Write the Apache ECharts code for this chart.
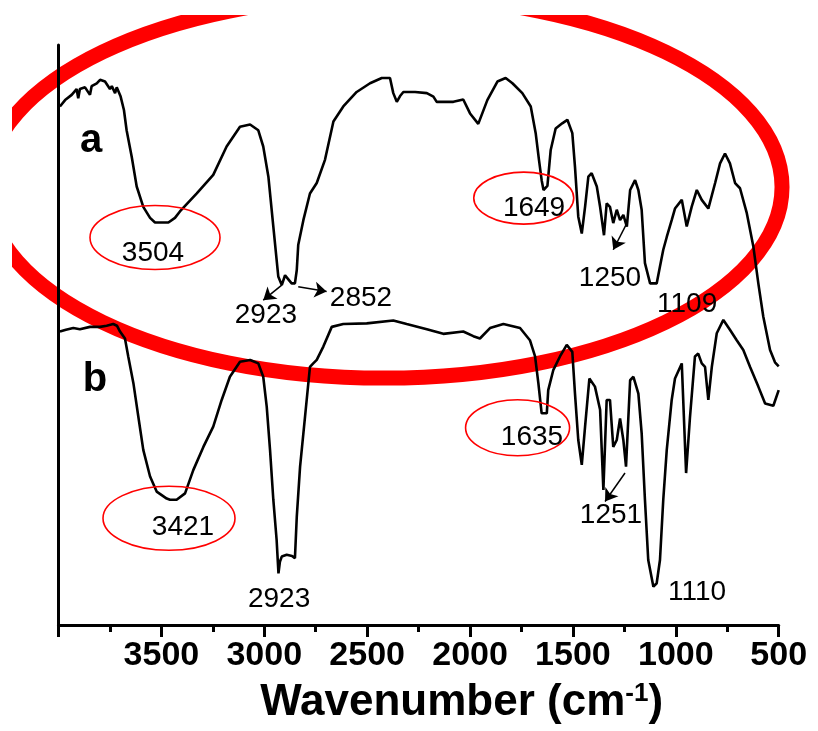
<!DOCTYPE html>
<html><head><meta charset="utf-8">
<script src="https://cdn.jsdelivr.net/npm/echarts/dist/echarts.min.js"></script>
<style>html,body{margin:0;padding:0;background:#fff}#c{width:818px;height:731px}</style>
</head><body><div id="c"></div>
<script>
// ---- Data (wavenumber in cm^-1, transmittance in arbitrary units) ----
const wavenumberA=[3993,3968,3936,3912,3904,3896,3871,3847,3839,3814,3798,3774,3750,3741,3725,3717,3698,3682,3669,3644,3620,3588,3555,3531,3466,3434,3410,3328,3248,3183,3118,3069,3029,3005,2980,2956,2932,2915,2899,2883,2867,2851,2842,2835,2810,2778,2745,2705,2664,2616,2551,2486,2429,2389,2373,2356,2340,2324,2267,2210,2178,2162,2081,2033,2000,1960,1916,1867,1827,1794,1746,1705,1681,1665,1652,1643,1624,1608,1584,1552,1527,1503,1490,1474,1457,1441,1425,1409,1384,1368,1349,1336,1320,1304,1287,1271,1255,1238,1222,1198,1182,1166,1150,1125,1093,1077,1061,1044,1020,1004,971,947,923,898,874,842,809,785,761,737,712,688,655,623,599,575,542,518,500];
const transA=[89.4,90.5,91.4,92.4,90.8,92.4,92.7,91.4,92.9,93.4,94.0,93.7,92.4,92.9,91.7,92.7,91.1,88.8,85.3,80.7,75.6,72.1,70.2,69.4,69.4,70.2,71.3,74.4,77.6,82.5,85.9,86.3,85.3,82.5,77.3,68.7,60.1,58.6,60.3,59.6,58.9,58.9,61.2,65.5,69.8,74.4,76.2,80.2,86.8,89.4,91.9,93.4,94.3,94.3,91.7,90.2,91.2,91.9,91.9,91.7,91.1,90.2,90.2,90.6,88.2,86.4,90.5,93.7,94.3,93.4,91.7,89.4,84.8,80.2,76.7,75.0,75.7,81.9,85.6,86.5,87.1,84.8,79.0,70.4,67.5,72.1,77.3,77.9,75.6,72.1,67.2,72.7,72.1,69.3,71.6,69.8,70.7,68.7,75.0,76.7,75.0,71.6,62.4,58.9,58.9,61.8,64.7,66.9,69.8,71.8,73.3,68.7,72.1,75.0,73.3,71.8,76.2,79.6,81.3,79.6,76.2,75.3,71.0,65.2,58.9,53.2,47.4,45.3,44.6];
const wavenumberB=[3993,3964,3928,3896,3847,3798,3766,3734,3716,3701,3677,3661,3636,3612,3588,3555,3523,3474,3458,3426,3385,3345,3296,3248,3207,3167,3118,3069,3029,3005,2988,2972,2956,2940,2931,2924,2915,2891,2865,2851,2842,2826,2802,2778,2762,2745,2713,2672,2616,2502,2373,2308,2210,2130,2033,1984,1952,1903,1838,1757,1709,1684,1668,1652,1627,1620,1595,1563,1530,1503,1490,1474,1457,1441,1420,1393,1368,1352,1336,1320,1304,1287,1271,1255,1242,1222,1206,1182,1166,1150,1134,1109,1093,1077,1061,1044,1020,1004,971,950,931,907,891,874,858,842,825,801,769,737,704,672,639,599,566,526,500];
const transB=[50.6,50.9,51.2,51.0,51.4,51.4,51.6,51.9,51.6,50.6,49.4,46.3,41.7,35.9,30.2,25.6,23.0,21.8,21.6,21.6,22.7,26.7,30.7,34.2,38.8,42.8,45.4,45.7,45.1,42.8,37.6,30.2,21.6,14.7,8.9,10.9,11.8,12.1,11.9,11.5,18.7,27.3,35.9,44.5,45.1,45.7,48.0,51.4,51.9,52.0,52.5,51.9,51.0,50.2,50.6,49.8,49.4,51.2,51.9,51.2,49.1,46.3,41.7,36.5,36.5,40.5,44.0,46.3,48.3,47.1,39.9,31.9,27.6,34.2,42.5,41.1,37.1,23.3,38.8,38.8,30.7,31.9,35.6,31.9,27.3,42.2,42.8,39.9,33.1,21.6,11.2,6.6,7.2,11.2,21.6,30.2,38.8,42.5,45.1,26.2,35.9,46.3,46.8,45.1,44.5,38.8,44.5,50.3,52.6,50.9,49.1,47.4,44.5,41.1,38.2,37.8,40.5];
const xTickValues=[500,1000,1500,2000,2500,3000,3500];
// peak annotation texts and their anchor (wavenumber, transmittance)
const peakTexts=['3504','2923','2852','1649','1250','1109','3421','2923','1635','1251','1110'];
const peakTextWn=[3541,2992,2530,1689,1320,945,3395,2928,1699,1315,897];
const peakTextT=[64.1,53.4,56.4,71.9,59.7,55.3,16.9,4.5,32.4,18.9,5.7];
const curveNames=['a','b'];
const curveNameWn=[3842,3823];
const curveNameT=[83.4,42.2];
// highlight ellipse anchors
const ringWn=[3531,1739,3463,1769];
const ringT=[66.8,73.6,18.4,34.0];
const bigRingWn=[2418], bigRingT=[75.5];
// arrows: from / to points
const arrowFrom=[[2915,58.6],[2835,58.3],[1242,69.0],[1247,26.2]];
const arrowTo=[[3005,56.0],[2697,57.5],[1304,64.7],[1344,21.3]];

// ---- styles / sizes ----
const FONT='"Liberation Sans", Arial, Helvetica, sans-serif';
const ringRadii=[[65,32],[50,26],[66,32],[52,28]];

const chart=echarts.init(document.getElementById('c'),null,{renderer:'canvas'});
const seriesA=wavenumberA.map((w,i)=>[w,transA[i]]);
const seriesB=wavenumberB.map((w,i)=>[w,transB[i]]);

chart.setOption({
  animation:false,
  backgroundColor:'#fff',
  grid:{left:58.5,right:39.3,top:45,bottom:106,containLabel:false},
  xAxis:{type:'value',inverse:true,min:500,max:4000,interval:500,z:3,
    axisLine:{show:true,onZero:false,lineStyle:{color:'#000',width:3}},
    axisTick:{show:true,length:12,lineStyle:{color:'#000',width:3}},
    minorTick:{show:true,splitNumber:2,length:7,lineStyle:{color:'#000',width:3}},
    splitLine:{show:false},minorSplitLine:{show:false},
    axisLabel:{fontSize:34,fontWeight:'bold',color:'#000',fontFamily:FONT,margin:14,
      formatter:v=>xTickValues.indexOf(v)>=0?String(v):''},
    name:'Wavenumber (cm{sup|-1})',nameLocation:'middle',nameGap:56,
    nameTextStyle:{fontSize:44,fontWeight:'bold',color:'#000',fontFamily:FONT,padding:[0,0,0,86],
      rich:{sup:{fontSize:26,fontWeight:'bold',color:'#000',fontFamily:FONT,verticalAlign:'top'}}}
  },
  yAxis:{type:'value',min:0,max:100,z:3,
    axisLine:{show:true,onZero:false,lineStyle:{color:'#000',width:3}},
    axisTick:{show:false},axisLabel:{show:false},splitLine:{show:false}},
  graphic:{elements:[
    {type:'rect',left:0,top:0,z:100,shape:{width:818,height:15},style:{fill:'#fff'}},
    {type:'rect',left:0,top:0,z:100,shape:{width:12,height:731},style:{fill:'#fff'}}
  ]},
  series:[
    {type:'custom',name:'bigRing',z:1,silent:true,
      data:bigRingWn.map((w,i)=>[w,bigRingT[i]]),
      renderItem:(params,api)=>{const p=api.coord([api.value(0),api.value(1)]);
        return {type:'ellipse',shape:{cx:p[0],cy:p[1],rx:398,ry:191},style:{fill:null,stroke:'#ff0000',lineWidth:15}};}},
    {type:'line',name:'a',z:4,data:seriesA,showSymbol:false,symbol:'none',
      lineStyle:{color:'#000',width:2.6},itemStyle:{color:'#000'},
      markLine:{silent:true,symbol:['none','arrow'],symbolSize:12,label:{show:false},
        itemStyle:{color:'#000'},emphasis:{disabled:true},
        lineStyle:{color:'#000',width:1.5,type:'solid'},
        data:arrowFrom.map((f,i)=>[{coord:f},{coord:arrowTo[i]}])}},
    {type:'line',name:'b',z:4,data:seriesB,showSymbol:false,symbol:'none',
      lineStyle:{color:'#000',width:2.6},itemStyle:{color:'#000'}},
    {type:'custom',name:'rings',z:5,silent:true,
      data:ringWn.map((w,i)=>[w,ringT[i],i]),
      renderItem:(params,api)=>{const p=api.coord([api.value(0),api.value(1)]);const r=ringRadii[api.value(2)];
        return {type:'ellipse',shape:{cx:p[0],cy:p[1],rx:r[0],ry:r[1]},style:{fill:null,stroke:'#ff0000',lineWidth:1.6}};}},
    {type:'custom',name:'peakText',z:6,silent:true,
      data:peakTextWn.map((w,i)=>[w,peakTextT[i],i]),
      renderItem:(params,api)=>{const p=api.coord([api.value(0),api.value(1)]);
        return {type:'text',x:p[0],y:p[1],style:{text:peakTexts[api.value(2)],fill:'#000',
          font:'28px '+FONT,align:'center',verticalAlign:'middle'}};}},
    {type:'custom',name:'curveText',z:6,silent:true,
      data:curveNameWn.map((w,i)=>[w,curveNameT[i],i]),
      renderItem:(params,api)=>{const p=api.coord([api.value(0),api.value(1)]);
        return {type:'text',x:p[0],y:p[1],style:{text:curveNames[api.value(2)],fill:'#000',
          font:'bold 40px '+FONT,align:'center',verticalAlign:'middle'}};}}
  ]
});
</script></body></html>
